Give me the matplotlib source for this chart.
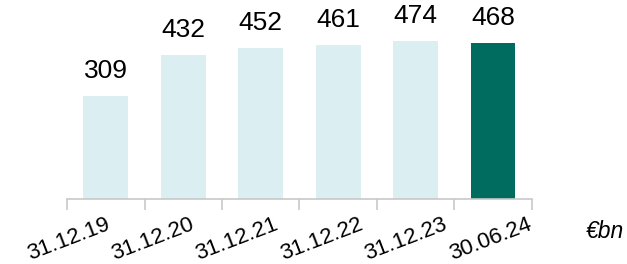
import numpy as np
import matplotlib.pyplot as plt

plt.rcParams['font.family'] = ['Liberation Sans', 'DejaVu Sans']

categories = ['31.12.19', '31.12.20', '31.12.21', '31.12.22', '31.12.23', '30.06.24']
values = [309, 432, 452, 461, 474, 468]
colors = ['#dbeef1'] * 5 + ['#006b5f']

fig = plt.figure(figsize=(6.27, 2.64), dpi=100)
ax = fig.add_axes([0.107, 0.246, 0.741, 0.754])

x = np.arange(len(categories))
bars = ax.bar(x, values, width=0.58, color=colors)

# value labels above bars
for xi, v in zip(x, values):
    ax.text(xi, v + 54, str(v), ha='center', va='baseline', fontsize=19, color='#000000')

ax.set_xlim(-0.5, len(categories) - 0.5)
ax.set_ylim(0, 597)

for s in ['top', 'right', 'left']:
    ax.spines[s].set_visible(False)
ax.spines['bottom'].set_color('#c8c8c8')
ax.spines['bottom'].set_linewidth(1.2)
ax.set_yticks([])

# tick marks sit between categories
ax.set_xticks(np.arange(len(categories) + 1) - 0.5)
ax.set_xticklabels([])
ax.tick_params(axis='x', length=8, width=1.2, color='#c8c8c8')

# rotated date labels, spaced a little wider than the bars
for xi, lab in zip(x, categories):
    ax.text(xi - 0.01 + 0.09 * xi, -44, lab, rotation=21, rotation_mode='anchor',
            ha='right', va='top', fontsize=16)

fig.text(0.965, 0.098, '€bn', fontsize=16.5, style='italic', ha='center', va='baseline')

fig.savefig('out.png', dpi=100)
